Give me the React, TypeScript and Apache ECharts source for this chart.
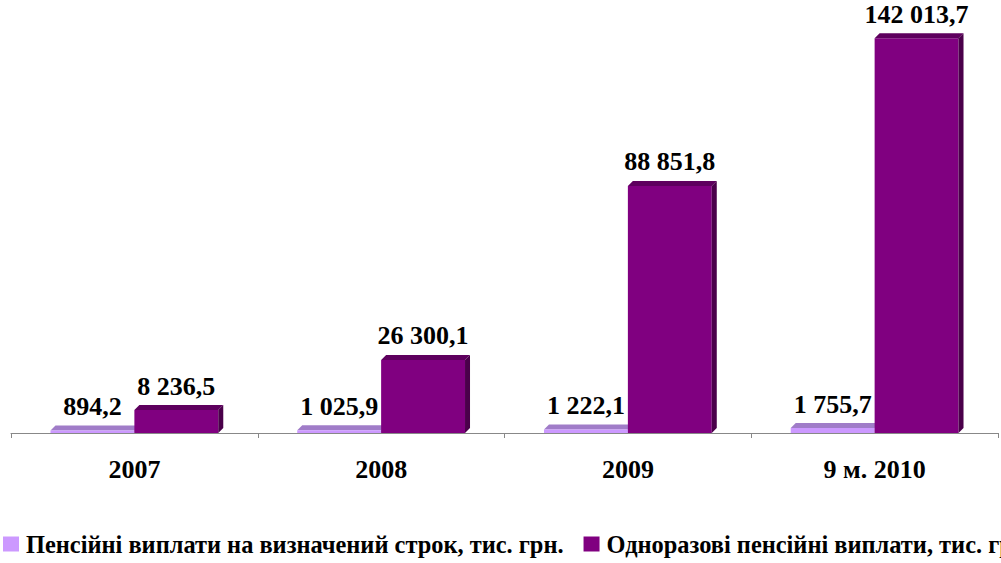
import React, { useEffect, useRef } from "react";
import * as echarts from "echarts";

const categories = ["2007", "2008", "2009", "9 м. 2010"];
const fixedTermPayments = [894.2, 1025.9, 1222.1, 1755.7];
const lumpSumPayments = [8236.5, 26300.1, 88851.8, 142013.7];
const seriesNames = [
  "Пенсійні виплати на визначений строк, тис. грн.",
  "Одноразові пенсійні виплати, тис. грн.",
];

const LIGHT = "#CC99FF";
const LIGHT_TOP = "#A07CC8";
const LIGHT_SIDE = "#8E6CB5";
const DARK = "#800080";
const DARK_TOP = "#5E005E";
const DARK_SIDE = "#4A004A";
const FONT = "Liberation Serif, Times New Roman, serif";

function fmt(v: number): string {
  const [intPart, dec] = v.toFixed(1).split(".");
  const withSpaces = intPart.replace(/\B(?=(\d{3})+(?!\d))/g, " ");
  return withSpaces + "," + dec;
}

function makeRender(side: 0 | 1, topColor: string, sideColor: string) {
  return (params: any, api: any) => {
    const idx = api.value(0);
    const val = api.value(1);
    const top = api.coord([idx, val]);
    const bot = api.coord([idx, 0]);
    const band = api.size([1, 0])[0];
    const w = band * 0.34;
    const cx = top[0];
    const x0 = side === 0 ? cx - w : cx;
    const x1 = x0 + w;
    const yTop = top[1];
    const yBot = bot[1];
    const d = 5;
    return {
      type: "group",
      children: [
        {
          type: "polygon",
          shape: { points: [[x0, yTop], [x1, yTop], [x1 + d, yTop - d], [x0 + d, yTop - d]] },
          style: { fill: topColor },
        },
        {
          type: "polygon",
          shape: { points: [[x1, yTop], [x1 + d, yTop - d], [x1 + d, yBot - d], [x1, yBot]] },
          style: { fill: sideColor },
        },
      ],
    };
  };
}

export default function App() {
  const ref = useRef<HTMLDivElement>(null);
  useEffect(() => {
    if (!ref.current) return;
    const chart = echarts.init(ref.current, null, { renderer: "svg" });
    const labelStyle = {
      show: true,
      position: "top",
      distance: 11,
      fontFamily: FONT,
      fontWeight: "bold",
      fontSize: 26,
      color: "#000",
      formatter: (p: any) => fmt(p.value),
    };
    chart.setOption({
      animation: false,
      backgroundColor: "#fff",
      textStyle: { fontFamily: FONT },
      grid: { left: 11, right: 3, top: 16, bottom: 130, containLabel: false },
      legend: {
        left: 3,
        top: 532,
        padding: 0,
        width: 1100,
        itemWidth: 16,
        itemHeight: 15,
        itemGap: 20,
        icon: "rect",
        textStyle: {
          fontFamily: FONT,
          fontWeight: "bold",
          fontSize: 24.4,
          color: "#000",
          padding: [0, 0, 0, 2],
        },
        data: seriesNames,
      },
      xAxis: {
        type: "category",
        data: categories,
        offset: 6,
        axisLine: { lineStyle: { color: "#888", width: 1 } },
        axisTick: { show: true, length: 5, lineStyle: { color: "#888" } },
        axisLabel: { fontFamily: FONT, fontWeight: "bold", fontSize: 26, color: "#000", margin: 17 },
      },
      yAxis: { type: "value", min: 0, max: 150000, show: false, splitLine: { show: false } },
      series: [
        {
          type: "custom",
          name: "light3d",
          z: 1,
          silent: true,
          renderItem: makeRender(0, LIGHT_TOP, LIGHT_SIDE),
          encode: { x: 0, y: 1 },
          data: fixedTermPayments.map((v, i) => [i, v]),
        },
        {
          type: "bar",
          name: seriesNames[0],
          z: 2,
          barWidth: "34%",
          barGap: "0%",
          itemStyle: { color: LIGHT },
          label: { ...labelStyle },
          data: fixedTermPayments,
        },
        {
          type: "bar",
          name: seriesNames[1],
          z: 2,
          barWidth: "34%",
          barGap: "0%",
          itemStyle: { color: DARK },
          label: { ...labelStyle },
          data: lumpSumPayments,
        },
        {
          type: "custom",
          name: "dark3d",
          z: 3,
          silent: true,
          renderItem: makeRender(1, DARK_TOP, DARK_SIDE),
          encode: { x: 0, y: 1 },
          data: lumpSumPayments.map((v, i) => [i, v]),
        },
      ],
    });
    return () => chart.dispose();
  }, []);
  return <div ref={ref} style={{ width: 1001, height: 563, position: "absolute", left: 0, top: 0 }} />;
}
